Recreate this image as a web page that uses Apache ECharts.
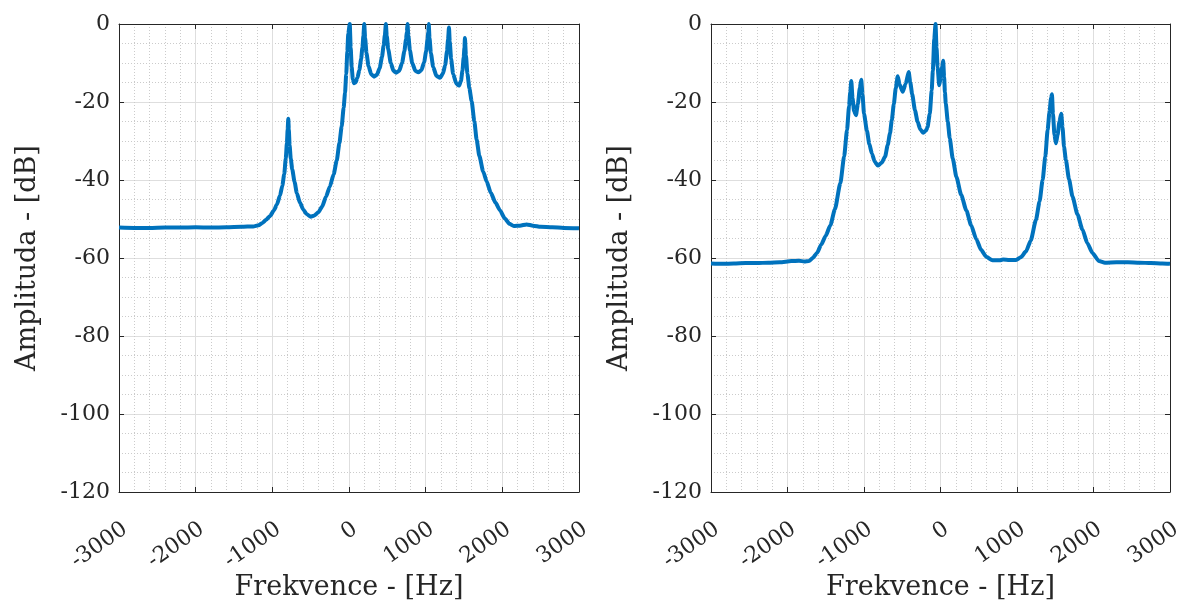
<!DOCTYPE html>
<html>
<head>
<meta charset="utf-8">
<script src="https://cdn.jsdelivr.net/npm/echarts@6/dist/echarts.min.js"></script>
<style>
html,body{margin:0;padding:0;background:#fff;}
#chart{width:1181px;height:603px;}
</style>
</head>
<body>
<div id="chart"></div>
<script>
// ---- data ----
const xTickValues = [-3000, -2000, -1000, 0, 1000, 2000, 3000];
const yTickValues = [-120, -100, -80, -60, -40, -20, 0];
const xAxisTitle = 'Frekvence - [Hz]';
const yAxisTitle = 'Amplituda - [dB]';

const leftFreq = [-3000,-2800,-2600,-2400,-2200,-2000,-1800,-1600,-1400,-1250,-1180,-1130,-1080,-1030,-980,-940,-900,-870,-845,-825,-810,-800,-792,-785,-775,-760,-740,-710,-680,-640,-596,-550,-500,-450,-400,-350,-300,-250,-200,-160,-125,-96,-70,-52,-36,-22,-10,
  10,22,35,50,65,85,110,135,158,175,188,199,
  210,228,255,290,326,365,400,430,452,468,481,
  492,512,545,580,615,655,692,722,743,755,763,
  774,795,825,865,904,945,980,1006,1024,1033,1040,
  1050,1068,1098,1140,1187,1225,1255,1278,1292,1304,
  1314,1332,1358,1400,1435,1460,1480,1496,1506,1512,
  1525,1545,1570,1600,1635,1665,1700,1750,1796,1850,1910,1970,2030,2090,2150,2230,2317,2400,2500,2650,2800,3000];
const leftAmp = [-52.2,-52.3,-52.3,-52.2,-52.2,-52.1,-52.2,-52.1,-52.0,-51.9,-51.6,-51.0,-50.2,-49.2,-47.8,-46.3,-44.0,-41.5,-38.5,-34.5,-30.5,-27,-24.3,-27,-31,-34.5,-37.3,-40.5,-43.4,-45.8,-47.6,-48.8,-49.4,-49.1,-48.3,-46.8,-44.3,-41.7,-38.5,-35,-30.5,-26.3,-21.5,-17.7,-12.8,-7,-2.5,
  0,-6,-11,-14.2,-15.2,-15,-13.8,-11.8,-9,-6,-3,0,
  -3.5,-7.5,-10.8,-12.9,-13.5,-13,-11.3,-8.5,-5.5,-2.8,0,
  -3,-6.5,-10,-12,-12.5,-12,-10,-7,-4,-2,0,
  -3,-6.8,-10,-12,-12.4,-11.8,-9.8,-7,-4,-2,0,
  -3.5,-7.5,-11,-13.3,-13.8,-12.7,-10.5,-7,-4,-0.9,
  -4.5,-9,-12.8,-15.3,-15.8,-14.6,-12,-8.5,-6,-3.6,
  -8,-12.8,-16.5,-19.8,-25,-29.7,-33.8,-37.8,-40.4,-43.3,-45.8,-47.8,-49.8,-51.2,-51.8,-51.7,-51.4,-51.7,-52,-52.1,-52.3,-52.4];

const rightFreq = [-3000,-2850,-2700,-2550,-2400,-2250,-2100,-1950,-1850,-1780,-1720,-1670,-1613,-1560,-1500,-1440,-1380,-1309,-1260,-1222,-1195,-1180,-1166,-1150,-1130,-1105,-1080,-1055,-1036,-1020,-1000,-962,-930,-897,-860,-819,-770,-724,-690,-660,-637,-610,-585,-559,-535,-494,-455,-416,-395,-370,-334,-300,-265,-225,-190,-170,-140,-115,-100,-82,-65,-52,-38,-17,5,22,35,47,58,69,95,121,160,208,270,338,400,468,530,598,680,772,818,900,988,1050,1118,1180,1248,1295,1335,1370,1400,1425,1445,1457,1470,1490,1509,1530,1555,1578,1595,1615,1639,1680,1725,1790,1855,1920,1985,2072,2150,2300,2450,2600,2750,2900,3000];
const rightAmp = [-61.4,-61.5,-61.4,-61.3,-61.3,-61.2,-61.1,-60.8,-60.7,-60.9,-60.8,-60,-58.7,-56.6,-54.3,-51.6,-47.5,-40.8,-34,-27.2,-21,-17.5,-14.6,-19,-22.3,-23.4,-20.5,-16.5,-14.3,-18,-23,-27.4,-30.8,-33.2,-35.3,-36.3,-35.6,-34,-31,-28,-24.7,-20.5,-16.5,-13.4,-15.5,-17.4,-15.3,-12.3,-15,-18,-22.1,-25,-27,-27.9,-27.3,-26.5,-23,-17,-11.9,-4,0,-6,-11,-15.7,-13.5,-11,-9.4,-13.5,-17.5,-20.4,-25,-29.3,-34.5,-39.2,-43.8,-47.8,-51.6,-55.2,-57.9,-59.7,-60.6,-60.6,-60.4,-60.5,-60.5,-59.8,-58.3,-55.5,-50.2,-45.5,-40,-34,-27.2,-22.5,-19,-18,-23,-28.5,-30.6,-28.5,-25,-23,-26.5,-31.5,-34.9,-39.8,-44.2,-48.8,-52.7,-56.2,-58.7,-60.8,-61.2,-61.1,-61.1,-61.2,-61.3,-61.4,-61.5];

// ---- chart ----
const FONT = 'DejaVu Serif';
const TEXT = '#262626';
const zip = (a, b) => a.map((v, i) => [v, b[i]]);

function xAxes(g) {
  return [{
    gridIndex: g, type: 'value', position: 'bottom',
    min: xTickValues[0], max: xTickValues[xTickValues.length - 1], interval: 1000,
    axisLine: { show: true, onZero: false, lineStyle: { color: TEXT, width: 1 } },
    axisTick: { show: true, inside: true, length: 5, lineStyle: { color: TEXT } },
    axisLabel: { rotate: 35, margin: 26, verticalAlign: 'top', fontFamily: FONT, fontSize: 22, color: TEXT, formatter: v => String(v) },
    splitLine: { show: true, lineStyle: { color: '#dedede', width: 1 } },
    minorTick: { show: false, splitNumber: 5 },
    minorSplitLine: { show: true, lineStyle: { color: '#cbcbcb', width: 1, type: [1, 2] } },
    name: xAxisTitle, nameLocation: 'middle', nameGap: 82, nameMoveOverlap: false,
    nameTextStyle: { fontFamily: FONT, fontSize: 27, color: TEXT }
  }, {
    gridIndex: g, type: 'value', position: 'top',
    min: xTickValues[0], max: xTickValues[xTickValues.length - 1], interval: 1000,
    axisLine: { show: true, onZero: false, lineStyle: { color: TEXT, width: 1 } },
    axisTick: { show: true, inside: true, length: 5, lineStyle: { color: TEXT } },
    axisLabel: { show: false }, splitLine: { show: false }
  }];
}
function yAxes(g) {
  return [{
    gridIndex: g, type: 'value', position: 'left',
    min: yTickValues[0], max: yTickValues[yTickValues.length - 1], interval: 20,
    axisLine: { show: true, onZero: false, lineStyle: { color: TEXT, width: 1 } },
    axisTick: { show: true, inside: true, length: 5, lineStyle: { color: TEXT } },
    axisLabel: { margin: 9, fontFamily: FONT, fontSize: 22, color: TEXT, formatter: v => String(v) },
    splitLine: { show: true, lineStyle: { color: '#dedede', width: 1 } },
    minorTick: { show: false, splitNumber: 4 },
    minorSplitLine: { show: true, lineStyle: { color: '#cbcbcb', width: 1, type: [1, 2] } },
    name: yAxisTitle, nameLocation: 'middle', nameGap: 78, nameRotate: 90, nameMoveOverlap: false,
    nameTextStyle: { fontFamily: FONT, fontSize: 27, color: TEXT }
  }, {
    gridIndex: g, type: 'value', position: 'right',
    min: yTickValues[0], max: yTickValues[yTickValues.length - 1], interval: 20,
    axisLine: { show: true, onZero: false, lineStyle: { color: TEXT, width: 1 } },
    axisTick: { show: true, inside: true, length: 5, lineStyle: { color: TEXT } },
    axisLabel: { show: false }, splitLine: { show: false }
  }];
}

const chart = echarts.init(document.getElementById('chart'), null, { renderer: 'canvas' });
chart.setOption({
  animation: false,
  backgroundColor: '#ffffff',
  grid: [
    { left: 119, top: 24, width: 460, height: 468, containLabel: false, outerBoundsMode: 'none' },
    { left: 711, top: 24, width: 459, height: 468, containLabel: false, outerBoundsMode: 'none' }
  ],
  xAxis: [...xAxes(0), ...xAxes(1)],
  yAxis: [...yAxes(0), ...yAxes(1)],
  series: [
    { type: 'line', xAxisIndex: 0, yAxisIndex: 0, data: zip(leftFreq, leftAmp), showSymbol: false,
      smooth: 0.2, smoothMonotone: 'x',
      lineStyle: { color: '#0072BD', width: 4 }, z: 3 },
    { type: 'line', xAxisIndex: 2, yAxisIndex: 2, data: zip(rightFreq, rightAmp), showSymbol: false,
      smooth: 0.2, smoothMonotone: 'x',
      lineStyle: { color: '#0072BD', width: 4 }, z: 3 }
  ]
});
</script>
</body>
</html>
